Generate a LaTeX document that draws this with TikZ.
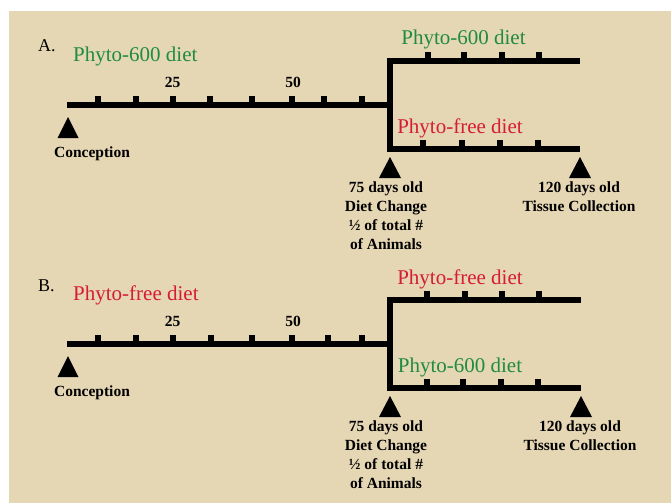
\documentclass[tikz,border=0pt]{standalone}
\usepackage{fontspec}
\setmainfont{Liberation Serif}
\definecolor{parchment}{RGB}{229,214,180}
\definecolor{dietgreen}{RGB}{32,140,62}
\definecolor{dietred}{RGB}{214,28,52}
\tikzset{
  timeline/.style={black, line width=6pt, line cap=butt, line join=miter},
  daytick/.style={black, line width=6pt, line cap=butt},
  marker/.style={black, fill=black},
  note/.style={font=\fontsize{15.5}{19}\selectfont\bfseries, align=center, inner sep=0pt},
  diet/.style={font=\fontsize{21}{24}\selectfont, inner sep=0pt, anchor=base},
  panel/.style={font=\fontsize{18}{20}\selectfont, inner sep=0pt, anchor=base west},
}

\begin{document}
\begin{tikzpicture}[x=1pt,y=-1pt]
  \useasboundingbox (0,0) rectangle (671,503);
  \fill[parchment] (9,11) rectangle (671,503);

  % panel A
  \coordinate (a-start) at (67,105);
  \coordinate (a-split) at (390,105);
  \coordinate (a-topl) at (390,61);
  \coordinate (a-topr) at (580,61);
  \coordinate (a-botl) at (390,149);
  \coordinate (a-botr) at (580,149);
  \draw[timeline] (a-start) -- (a-split);
  \draw[timeline] (a-topr) -- (a-topl) -- (a-botl) -- (a-botr);
  \draw[daytick] (98,105) -- (98,96) (136,105) -- (136,96) (173,105) -- (173,96)
    (210,105) -- (210,96) (252,105) -- (252,96) (292,105) -- (292,96)
    (324,105) -- (324,96) (362,105) -- (362,96);
  \draw[daytick] (428,61) -- (428,52) (464,61) -- (464,52) (502,61) -- (502,52) (539,61) -- (539,52);
  \draw[daytick] (423,149) -- (423,140) (462,149) -- (462,140) (500,149) -- (500,140) (538,149) -- (538,140);
  \fill[marker] (a-start) ++(1,12) -- ++(-10.5,21) -- ++(21,0) -- cycle;
  \fill[marker] (a-botl) ++(0,8) -- ++(-11,21) -- ++(22,0) -- cycle;
  \fill[marker] (a-botr) ++(0,8) -- ++(-11,21) -- ++(22,0) -- cycle;

  \node[panel] (a-label) at (38,52) {A.};
  \node[diet, anchor=base west, text=dietgreen] (a-diet) at (73,62) {Phyto-600 diet};
  \node[note, anchor=base] (a-day25) at (172.5,87) {25};
  \node[note, anchor=base] (a-day50) at (293,87) {50};
  \node[note, anchor=base] (a-conc) at (92,157) {Conception};
  \node[diet, text=dietgreen] (a-topdiet) at (463.5,45) {Phyto-600 diet};
  \node[diet, text=dietred] (a-botdiet) at (460,133) {Phyto-free diet};
  \node[note, anchor=north] (a-change) at (386,182) {75 days old\\Diet Change\\½ of total \#\\of Animals};
  \node[note, anchor=north] (a-end) at (579,182) {120 days old\\Tissue Collection};

  % panel B
  \begin{scope}[shift={(0,239)}]
  \coordinate (b-start) at (67,105);
  \coordinate (b-split) at (390,105);
  \coordinate (b-topl) at (390,61);
  \coordinate (b-topr) at (581,61);
  \coordinate (b-botl) at (390,149);
  \coordinate (b-botr) at (581,149);
  \draw[timeline] (b-start) -- (b-split);
  \draw[timeline] (b-topr) -- (b-topl) -- (b-botl) -- (b-botr);
  \draw[daytick] (98,105) -- (98,96) (136,105) -- (136,96) (173,105) -- (173,96)
    (211,105) -- (211,96) (252,105) -- (252,96) (292,105) -- (292,96)
    (328,105) -- (328,96) (362,105) -- (362,96);
  \draw[daytick] (427,61) -- (427,52) (465,61) -- (465,52) (502,61) -- (502,52) (539,61) -- (539,52);
  \draw[daytick] (427,149) -- (427,140) (463,149) -- (463,140) (501,149) -- (501,140) (538,149) -- (538,140);
  \fill[marker] (b-start) ++(1,12) -- ++(-10.5,21) -- ++(21,0) -- cycle;
  \fill[marker] (b-botl) ++(0,8) -- ++(-11,21) -- ++(22,0) -- cycle;
  \fill[marker] (b-botr) ++(0,8) -- ++(-11,21) -- ++(22,0) -- cycle;

  \node[panel] (b-label) at (38,52) {B.};
  \node[diet, anchor=base west, text=dietred] (b-diet) at (73,61) {Phyto-free diet};
  \node[note, anchor=base] (b-day25) at (172.5,87) {25};
  \node[note, anchor=base] (b-day50) at (293,87) {50};
  \node[note, anchor=base] (b-conc) at (92,157) {Conception};
  \node[diet, text=dietred] (b-topdiet) at (460,45) {Phyto-free diet};
  \node[diet, text=dietgreen] (b-botdiet) at (460,133) {Phyto-600 diet};
  \node[note, anchor=north] (b-change) at (386,182) {75 days old\\Diet Change\\½ of total \#\\of Animals};
  \node[note, anchor=north] (b-end) at (580,182) {120 days old\\Tissue Collection};
  \end{scope}
\end{tikzpicture}
\end{document}
